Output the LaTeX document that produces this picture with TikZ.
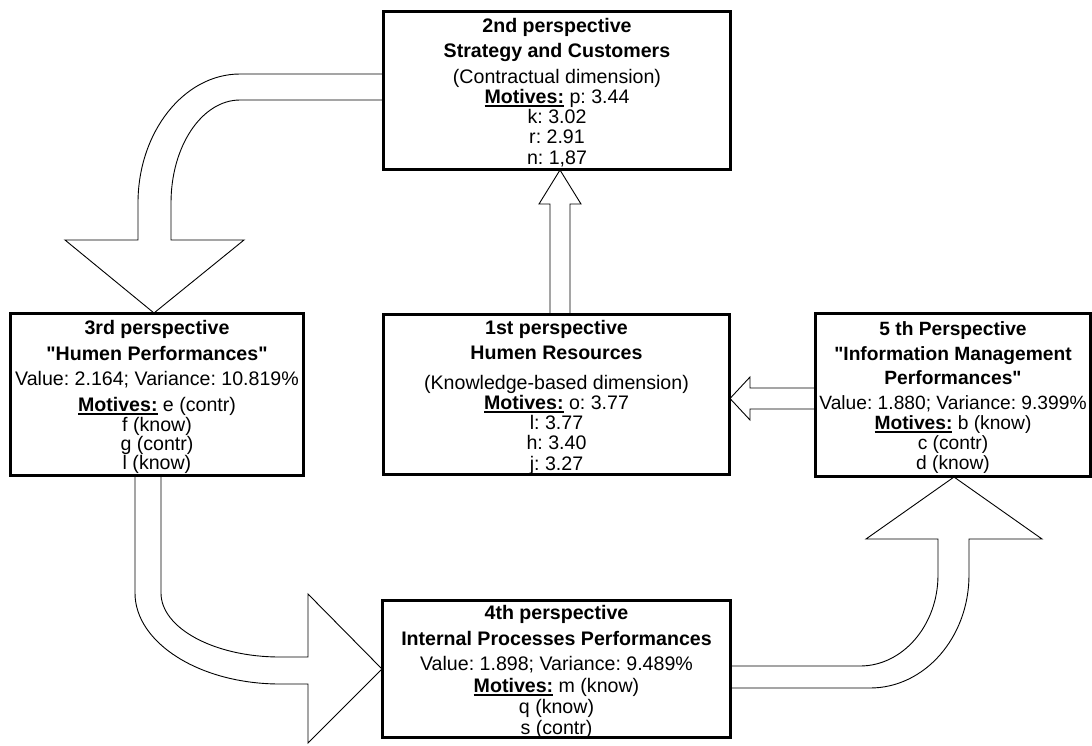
\documentclass[tikz,border=0pt]{standalone}
\usepackage{fontspec}
\setmainfont{Liberation Sans}[Ligatures=TeXOff]
\frenchspacing
\newcommand\mtvul[1]{\setbox0\hbox{#1}\rlap{\rule[-3.2pt]{\wd0}{1.6pt}}\box0}
\newcommand\mtv{\mtvul{\textbf{Motives:}}}
\tikzset{
  box/.style={draw, line width=2pt, fill=white, inner sep=0pt, anchor=north west},
  txt/.style={align=center, inner sep=0pt, anchor=north, font=\fontsize{19.6}{20.3}\selectfont\frenchspacing},
  blockarrow/.style={draw, fill=white, line width=0.9pt, line join=miter},
}
\begin{document}
\begin{tikzpicture}[x=1pt,y=-1pt]
\useasboundingbox (0,0) rectangle (1092,745);
% boxes
\node[box, minimum width=346pt, minimum height=157pt] (b2) at (383,11) {};
\node[box, minimum width=292pt, minimum height=161pt] (b3) at (10,313) {};
\node[box, minimum width=345pt, minimum height=159pt] (b1) at (383,314) {};
\node[box, minimum width=274pt, minimum height=162pt] (b5) at (815,313) {};
\node[box, minimum width=347pt, minimum height=136pt] (b4) at (382,600) {};
% block arrows
% 1st -> 2nd
\draw[blockarrow] (550,0 |- b1.north) -- (550,204) -- (539,204) -- (560,0 |- b2.south) -- (581,204) -- (570,204) -- (570,0 |- b1.north) -- cycle;
% 5th -> 1st
\draw[blockarrow] (b5.west |- 0,388) -- (750,388) -- (750,377) -- (b1.east |- 0,398.5) -- (750,420) -- (750,409) -- (b5.west |- 0,409) -- cycle;
% 2nd -> 3rd
\draw[blockarrow] (b2.west |- 0,74) -- (240,74) .. controls (184,74) and (138,132) .. (138,203) -- (138,240) -- (65,240) -- (154,0 |- b3.north) -- (244,240) -- (171,240) -- (171,203) .. controls (171,146) and (202,100) .. (240,100) -- (b2.west |- 0,100) -- cycle;
% 3rd -> 4th
\draw[blockarrow] (135,0 |- b3.south) -- (135,593) .. controls (135,643) and (200,684) .. (280,684) -- (308,684) -- (308,743) -- (b4.west |- 0,669) -- (308,594) -- (308,657) -- (280,657) .. controls (214,657) and (161,628) .. (161,593) -- (161,0 |- b3.south) -- cycle;
% 4th -> 5th
\draw[blockarrow] (b4.east |- 0,666) -- (860,666) .. controls (903,666) and (938,625) .. (938,575) -- (938,539) -- (866,539) -- (954,0 |- b5.south) -- (1042,539) -- (969,539) -- (969,575) .. controls (969,637) and (925,688) .. (870,688) -- (b4.east |- 0,688) -- cycle;
% box borders on top of the arrow ends
\foreach \b in {b1,b2,b3,b4,b5} \draw[line width=2pt] (\b.north west) rectangle (\b.south east);
% texts
\node[txt] (t2) at ([yshift=-7pt]b2.north) {\textbf{2nd perspective}\\[5pt]\textbf{Strategy and Customers}\\[5pt](Contractual dimension)\\\mtv{} p: 3.44\\k: 3.02\\r: 2.91\\n: 1,87};
\node[txt, font=\fontsize{19.6}{19.4}\selectfont\frenchspacing] (t3) at ([yshift=-7.5pt]b3.north) {\textbf{3rd perspective}\\[6.5pt]\textbf{"Humen Performances"}\\[5pt]Value: 2.164; Variance: 10.819\%\\[7pt]\mtv{} e (contr)\\f (know)\\g (contr)\\l (know)};
\node[txt] (t1) at ([yshift=-6pt]b1.north) {\textbf{1st perspective}\\[5pt]\textbf{Humen Resources}\\[9pt](Knowledge-based dimension)\\\mtv{} o: 3.77\\l: 3.77\\h: 3.40\\j: 3.27};
\node[txt, font=\fontsize{19.2}{20.3}\selectfont\frenchspacing] (t5) at ([yshift=-8pt]b5.north) {\textbf{5 th Perspective}\\[5pt]\textbf{"Information Management}\\[4pt]\textbf{Performances"}\\[4pt]Value: 1.880; Variance: 9.399\%\\\mtv{} b (know)\\c (contr)\\d (know)};
\node[txt, font=\fontsize{19.6}{21}\selectfont\frenchspacing] (t4) at ([yshift=-5pt]b4.north) {\textbf{4th perspective}\\[5pt]\textbf{Internal Processes Performances}\\[4pt]Value: 1.898; Variance: 9.489\%\\[1pt]\mtv{} m (know)\\q (know)\\s (contr)};
\end{tikzpicture}
\end{document}
